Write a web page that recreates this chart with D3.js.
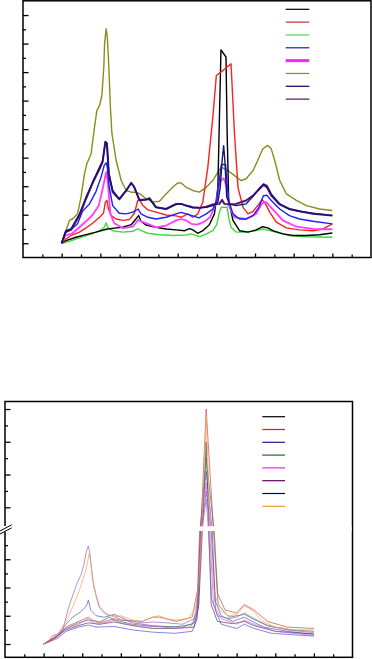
<!DOCTYPE html>
<html>
<head>
<meta charset="utf-8">
<script src="https://cdn.jsdelivr.net/npm/d3@7"></script>
<style>
  body { margin: 0; background: #fff; }
</style>
</head>
<body>
<div id="chart"></div>
<script>
const width = 372;
const height = 659;

/* ---------- top panel data: [shift, intensity] ---------- */
const topBlack = [[200,0],[211,0.09],[237,0.21],[263,0.30],[289,0.39],[315,0.49],[336,0.53],[358,0.56],[380,0.65],[392,0.85],[399,0.97],[405,0.77],[418,0.64],[444,0.56],[470,0.50],[496,0.47],[518,0.44],[531,0.51],[539,0.47],[552,0.35],[565,0.44],[582,0.65],[595,1.03],[604,1.96],[608,4.42],[612,6.78],[625,6.53],[628,3.84],[632,1.50],[643,0.80],[660,0.44],[682,0.39],[703,0.47],[720,0.58],[733,0.54],[746,0.44],[772,0.33],[798,0.27],[833,0.27],[867,0.30],[900,0.36]];
const topRed = [[200,0],[211,0.15],[224,0.27],[246,0.39],[263,0.54],[280,0.70],[298,0.91],[308,1.05],[313,1.44],[317,1.50],[321,1.20],[328,0.97],[341,0.85],[358,0.80],[375,0.83],[388,1.05],[397,1.50],[401,1.54],[410,1.32],[423,1.17],[444,1.09],[470,0.99],[496,0.96],[509,0.91],[526,1.03],[539,0.91],[552,1.03],[565,1.44],[578,2.67],[591,4.42],[600,5.88],[619,6.08],[638,6.29],[647,3.84],[656,1.96],[669,1.26],[682,1.03],[695,1.12],[707,1.32],[718,1.52],[725,1.44],[738,1.09],[755,0.74],[781,0.54],[815,0.47],[850,0.44],[876,0.50],[900,0.68]];
const topGreen = [[200,0],[220,0.07],[246,0.19],[272,0.30],[298,0.44],[310,0.56],[315,0.71],[319,0.56],[332,0.44],[358,0.39],[384,0.42],[398,0.51],[405,0.44],[423,0.35],[453,0.30],[487,0.27],[522,0.29],[535,0.33],[548,0.27],[558,0.23],[574,0.33],[591,0.44],[601,0.65],[608,1.09],[613,1.26],[628,1.26],[632,0.91],[638,0.56],[651,0.39],[677,0.39],[703,0.44],[720,0.50],[738,0.44],[764,0.36],[789,0.27],[833,0.23],[900,0.21]];
const topBlue = [[200,0],[209,0.36],[224,0.47],[241,0.68],[254,1.12],[272,1.38],[289,1.82],[302,2.32],[310,2.73],[315,2.82],[318,2.67],[323,1.96],[332,1.32],[349,1.05],[367,1.03],[384,1.09],[398,1.20],[405,1.03],[423,0.91],[444,0.85],[470,0.91],[496,1.03],[509,1.08],[522,1.03],[539,0.96],[555,0.89],[574,1.03],[591,1.20],[601,1.50],[608,2.26],[613,2.76],[624,2.76],[627,2.20],[632,1.50],[643,1.03],[660,0.85],[677,0.85],[695,0.97],[710,1.26],[722,1.67],[731,1.68],[742,1.50],[764,1.20],[789,0.97],[815,0.85],[850,0.77],[900,0.68]];
const topMagenta = [[200,0],[209,0.27],[228,0.35],[246,0.56],[263,0.77],[280,0.99],[296,1.32],[306,1.91],[315,2.49],[319,2.20],[326,1.03],[336,0.70],[358,0.53],[384,0.58],[398,0.82],[405,0.77],[423,0.68],[444,0.56],[470,0.62],[496,0.80],[509,0.85],[522,0.80],[535,0.68],[550,0.65],[567,0.74],[584,0.91],[600,1.44],[608,2.14],[619,2.28],[627,1.96],[634,1.26],[647,0.91],[677,0.85],[703,1.03],[718,1.40],[729,1.44],[751,1.12],[772,0.80],[807,0.58],[850,0.50],[900,0.49]];
const topOlive = [[200,0],[211,0.44],[220,0.80],[228,0.85],[241,1.03],[250,1.61],[259,2.43],[265,2.78],[276,3.13],[285,4.07],[291,4.65],[298,4.83],[304,5.18],[309,6.18],[311,6.99],[315,7.52],[318,7.23],[322,6.18],[326,4.77],[330,3.84],[341,2.90],[354,2.20],[367,1.85],[380,1.79],[392,1.79],[405,1.71],[418,1.56],[436,1.44],[453,1.47],[470,1.73],[487,1.96],[500,2.11],[509,2.11],[522,1.96],[539,1.85],[556,1.79],[574,1.96],[591,2.20],[604,2.49],[613,2.67],[630,2.55],[647,2.37],[664,2.20],[677,2.26],[695,2.55],[707,2.90],[720,3.31],[733,3.43],[742,3.31],[751,2.90],[764,2.20],[781,1.73],[807,1.50],[833,1.32],[867,1.20],[900,1.15]];
const topNavy = [[200,0],[211,0.44],[224,0.50],[246,1.03],[263,1.61],[280,2.14],[298,2.67],[306,2.90],[313,3.54],[317,3.49],[322,2.43],[332,1.85],[349,1.56],[367,1.85],[380,2.11],[388,1.96],[401,1.50],[418,1.52],[427,1.56],[444,1.26],[470,1.20],[496,1.36],[509,1.38],[522,1.32],[539,1.24],[556,1.24],[574,1.26],[591,1.32],[604,1.44],[610,1.96],[615,2.90],[619,3.42],[622,2.90],[627,1.61],[634,1.38],[651,1.32],[677,1.38],[695,1.65],[712,1.94],[722,2.08],[731,2.02],[742,1.73],[764,1.38],[789,1.20],[815,1.12],[850,1.05],[900,0.97]];
const topPurple = [[200,0],[211,0.42],[224,0.47],[246,0.97],[263,1.56],[280,2.11],[298,2.61],[306,2.85],[313,3.56],[317,3.51],[322,2.43],[332,1.79],[349,1.54],[367,1.85],[380,2.12],[388,1.96],[401,1.52],[418,1.53],[427,1.58],[444,1.26],[470,1.20],[496,1.38],[509,1.38],[522,1.32],[539,1.26],[556,1.24],[574,1.28],[591,1.36],[608,1.38],[615,1.52],[621,1.38],[634,1.36],[651,1.38],[677,1.50],[695,1.67],[712,1.91],[722,2.05],[731,1.96],[742,1.67],[764,1.36],[789,1.20],[815,1.12],[850,1.03],[900,0.97]];

/* ---------- bottom panel data (broken axis: low part 0-4, high part 8.4-85) ---------- */
const botBlack = [[200,0],[215,0.1],[236,0.28],[258,0.5],[290,0.65],[316,0.75],[345,0.7],[383,0.78],[430,0.65],[482,0.55],[540,0.55],[590,0.6],[602,1.4],[611,4.0],[621,60],[628,4.0],[634,1.4],[650,0.8],[690,0.72],[720,0.8],[745,0.65],[800,0.45],[900,0.35]];
const botRed = [[200,0],[215,0.1],[236,0.28],[258,0.6],[290,0.8],[316,0.95],[325,0.85],[345,0.75],[383,0.9],[400,0.85],[456,0.8],[482,0.95],[500,0.95],[543,0.8],[585,0.95],[600,2.0],[607,4.0],[621,80],[640,4.0],[650,1.8],[670,1.2],[700,1.1],[720,1.4],[745,1.2],[780,0.8],[830,0.6],[900,0.55]];
const botBlue = [[200,0],[215,0.08],[236,0.2],[258,0.45],[290,0.6],[316,0.67],[336,0.6],[383,0.62],[430,0.5],[482,0.42],[540,0.38],[585,0.45],[598,0.9],[606,4.0],[621,42],[637,4.0],[645,1.2],[660,0.7],[700,0.55],[720,0.7],[745,0.55],[790,0.38],[900,0.28]];
const botGreen = [[200,0],[215,0.12],[236,0.3],[258,0.55],[290,0.75],[316,0.85],[345,0.78],[370,0.95],[383,0.85],[430,0.7],[482,0.62],[540,0.6],[585,0.7],[598,1.2],[605,4.0],[621,50],[642,4.0],[652,1.4],[680,0.95],[720,1.05],[740,0.9],[780,0.65],[840,0.5],[900,0.45]];
const botMagenta = [[200,0],[215,0.1],[236,0.25],[258,0.55],[290,0.7],[316,0.9],[325,0.75],[345,0.7],[383,0.85],[400,0.75],[456,0.6],[500,0.62],[540,0.55],[580,0.6],[596,0.9],[604,4.0],[621,35],[630,4.0],[640,1.4],[660,0.9],[700,0.7],[720,0.85],[745,0.7],[800,0.45],[900,0.3]];
const botPurple = [[200,0],[215,0.15],[223,0.3],[236,0.35],[249,0.45],[258,0.95],[266,1.35],[275,1.7],[288,2.2],[297,2.45],[305,2.85],[311,3.3],[316,3.47],[320,3.2],[327,2.3],[336,1.7],[344,1.3],[357,1.1],[370,1.0],[383,1.0],[400,0.85],[430,0.8],[456,0.75],[482,0.78],[517,0.75],[560,0.7],[590,0.9],[600,1.6],[610,4.0],[621,25],[627,4.0],[635,1.6],[650,1.0],[680,0.9],[700,0.95],[720,1.1],[745,0.9],[780,0.65],[830,0.5],[900,0.4]];
const botNavy = [[200,0],[215,0.12],[236,0.3],[258,0.7],[275,0.95],[297,1.15],[311,1.35],[316,1.56],[322,1.2],[336,1.0],[357,0.95],[383,1.05],[400,0.95],[430,0.75],[482,0.65],[517,0.62],[560,0.6],[590,0.75],[600,1.2],[608,4.0],[621,30],[634,4.0],[645,1.5],[660,1.0],[690,0.8],[720,0.95],[740,0.8],[770,0.6],[830,0.45],[900,0.35]];
const botOrange = [[200,0],[215,0.15],[236,0.35],[258,0.8],[275,1.3],[290,1.8],[300,2.2],[311,2.7],[318,3.2],[322,2.9],[330,2.0],[345,1.35],[360,1.1],[383,0.95],[400,1.0],[430,0.85],[456,0.8],[482,0.95],[500,1.0],[517,0.9],[543,0.85],[575,0.9],[594,1.3],[603,2.5],[609,4.0],[621,76],[632,4.0],[640,2.0],[655,1.2],[680,1.0],[700,1.05],[720,1.35],[740,1.2],[767,0.8],[800,0.6],[850,0.5],[900,0.5]];

// tick values
const xMajor = [200, 300, 400, 500, 600, 700, 800, 900];
const xMinor = [150, 250, 350, 450, 550, 650, 750, 850, 950];
const topYMajor = [0, 1, 2, 3, 4, 5, 6, 7, 8];
const topYMinor = [0.5, 1.5, 2.5, 3.5, 4.5, 5.5, 6.5, 7.5];
const botYMajor = [0, 1, 2, 3, 20, 40, 60, 80];
const botYMinor = [0.5, 1.5, 2.5, 3.5, 30, 50, 70];

const topSeries = [
  { data: topOlive, color: '#8c8c1e', w: 1.4, legend: '#8c8c1e', lw: 1.2 },
  { data: topGreen, color: '#3cdc3c', w: 1.4, legend: '#4cd84c', lw: 1.2 },
  { data: topBlack, color: '#000000', w: 1.4, legend: '#000000', lw: 1.2 },
  { data: topRed, color: '#ff2020', w: 1.4, legend: '#c83030', lw: 1.2 },
  { data: topMagenta, color: '#ff3cff', w: 1.8, legend: '#ff22ff', lw: 3 },
  { data: topBlue, color: '#2020f0', w: 1.4, legend: '#1a1aa8', lw: 1.2 },
  { data: topPurple, color: '#5a1070', w: 2, legend: '#551455', lw: 1.2 },
  { data: topNavy, color: '#141478', w: 1.4, legend: '#000060', lw: 1.2 },
];
const topLegendOrder = [2, 3, 1, 5, 4, 0, 7, 6];

const botSeries = [
  { data: botBlue, color: '#4a4ae0', legend: '#1a1a9a' },
  { data: botNavy, color: '#5050c0', legend: '#000066' },
  { data: botBlack, color: '#404040', legend: '#000000' },
  { data: botGreen, color: '#3a7a3a', legend: '#1e6a1e' },
  { data: botMagenta, color: '#e050e0', legend: '#dd33dd' },
  { data: botRed, color: '#d04040', legend: '#cc2222' },
  { data: botPurple, color: '#9060c0', legend: '#600060' },
  { data: botOrange, color: '#f0a050', legend: '#f09a30' },
];
const botLegendOrder = [2, 5, 0, 3, 4, 6, 1, 7];

// Scales
const xTop = d3.scaleLinear().domain([100, 1000]).range([23, 371]);
const yTop = d3.scaleLinear().domain([-0.5, 8.5]).range([257.5, 0.8]);

const xBot = d3.scaleLinear().domain([100, 1000]).range([5, 352.5]);
const yBot = d3.scaleLinear().domain([-0.47, 4, 8.4, 84.6]).range([657.3, 531, 526.3, 401.5]);

const svg = d3
  .select('#chart')
  .append('svg')
  .attr('width', width)
  .attr('height', height);

function drawPanel(x, y, series, yMajor, yMinor) {
  const g = svg.append('g');
  const line = d3.line().x((d) => x(d[0])).y((d) => y(d[1]));

  g.selectAll('path.series')
    .data(series)
    .join('path')
    .attr('class', 'series')
    .attr('fill', 'none')
    .attr('stroke', (d) => d.color)
    .attr('stroke-width', (d) => d.w || 0.8)
    .attr('stroke-opacity', (d) => (d.w ? 1 : 0.85))
    .attr('stroke-linejoin', 'round')
    .attr('d', (d) => line(d.data));

  const [x0, x1] = x.range();
  const [yb, yt] = [y.range()[0], y.range()[y.range().length - 1]];

  // ticks (inward)
  const axisX = (vals, len) =>
    g.append('g')
      .attr('transform', `translate(0,${yb})`)
      .call(d3.axisBottom(x).tickValues(vals).tickSize(-len).tickFormat(''))
      .call((a) => a.select('.domain').remove())
      .selectAll('line').attr('stroke', '#000').attr('stroke-width', 1.3);
  axisX(xMajor, 4);
  axisX(xMinor, 3);

  const axisY = (vals, len) =>
    g.append('g')
      .attr('transform', `translate(${x0},0)`)
      .call(d3.axisLeft(y).tickValues(vals).tickSize(-len).tickFormat(''))
      .call((a) => a.select('.domain').remove())
      .selectAll('line').attr('stroke', '#000').attr('stroke-width', 1.3);
  axisY(yMajor, 5.5);
  axisY(yMinor, 3);

  // frame
  g.append('rect')
    .attr('x', x0)
    .attr('y', yt)
    .attr('width', x1 - x0)
    .attr('height', yb - yt)
    .attr('fill', 'none')
    .attr('stroke', '#000')
    .attr('stroke-width', 1.5);
  return g;
}

drawPanel(xTop, yTop, topSeries, topYMajor, topYMinor);
const bot = drawPanel(xBot, yBot, botSeries, botYMajor, botYMinor);

// axis break in lower panel
bot.append('rect')
  .attr('x', xBot.range()[0] + 1)
  .attr('y', yBot(8.4))
  .attr('width', xBot.range()[1] - xBot.range()[0] - 2)
  .attr('height', yBot(4) - yBot(8.4))
  .attr('fill', '#fff');
bot.append('rect')
  .attr('x', xBot.range()[0] - 2)
  .attr('y', yBot(8.4) - 0.3)
  .attr('width', 4)
  .attr('height', yBot(4) - yBot(8.4) + 1)
  .attr('fill', '#fff');
[0, 3].forEach((off) => {
  bot.append('line')
    .attr('x1', 0)
    .attr('y1', yBot(4) + off)
    .attr('x2', 11.7)
    .attr('y2', yBot(8.4) - 1.5 + off)
    .attr('stroke', '#000')
    .attr('stroke-width', 1);
});

// Legends (no labels)
function drawLegend(series, order, xs, y0, dy) {
  svg.append('g')
    .selectAll('line')
    .data(order)
    .join('line')
    .attr('x1', xs[0])
    .attr('x2', xs[1])
    .attr('y1', (d, i) => y0 + i * dy)
    .attr('y2', (d, i) => y0 + i * dy)
    .attr('stroke', (d) => series[d].legend)
    .attr('stroke-width', (d) => series[d].lw || 1.2);
}
drawLegend(topSeries, topLegendOrder, [285.7, 309.3], 9.3, 12.83);
drawLegend(botSeries, botLegendOrder, [262.3, 285], 416.7, 12.8);
</script>
</body>
</html>
